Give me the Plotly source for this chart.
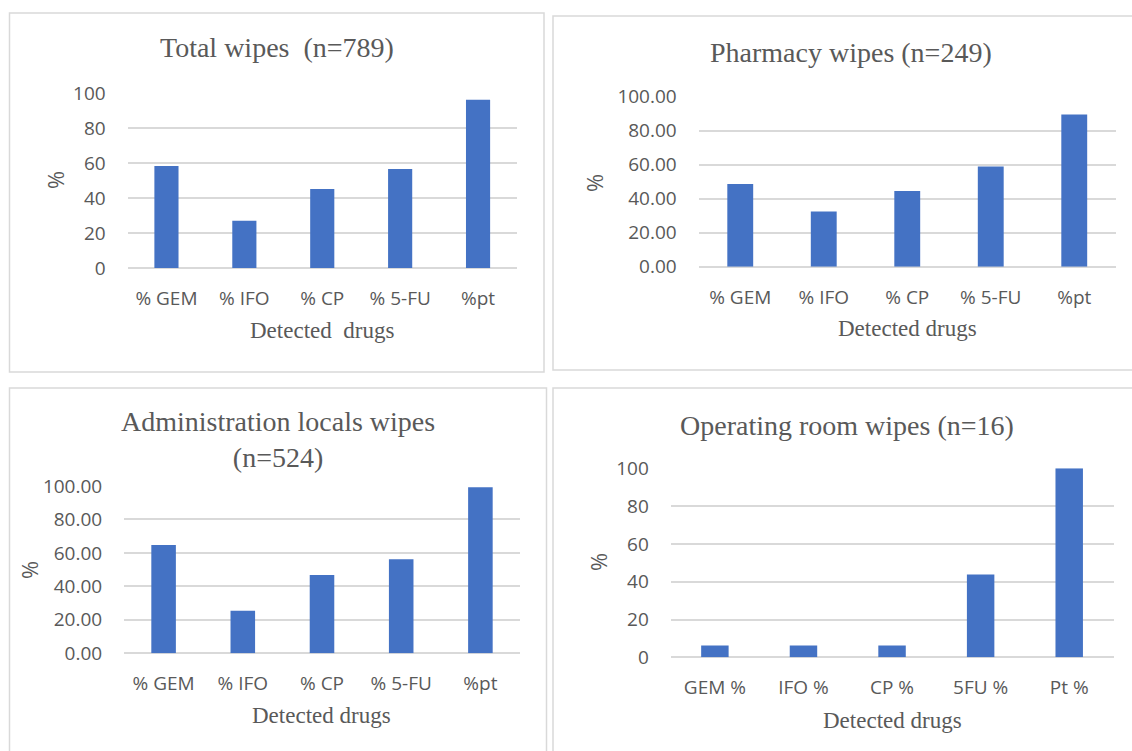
import plotly.graph_objects as go

W, H = 1132, 751

# ---- data ----
cats_a = ["% GEM", "% IFO", "% CP", "% 5-FU", "%pt"]
cats_or = ["GEM %", "IFO %", "CP %", "5FU %", "Pt %"]
total_vals = [58.3, 27.0, 45.1, 56.6, 96.2]
pharmacy_vals = [48.6, 32.4, 44.5, 59.0, 89.6]
admin_vals = [64.7, 25.5, 46.8, 56.2, 99.2]
oproom_vals = [6.25, 6.25, 6.25, 43.75, 100.0]

titles = ["Total wipes  (n=789)", "Pharmacy wipes (n=249)",
          "Administration locals wipes<br>(n=524)", "Operating room wipes (n=16)"]
xtitles = ["Detected  drugs", "Detected drugs", "Detected drugs", "Detected drugs"]

BAR = "#4472C4"
GRID = "#D9D9D9"
TXT = "#595959"
SERIF = "Liberation Serif, Times New Roman, serif"
SANS = "Open Sans, Liberation Sans, sans-serif"

def px(x):
    return x / W

def py(y):
    return 1 - y / H

panels = [
    dict(cats=cats_a, vals=total_vals, plot=(127.5, 517, 93, 268), title=(277, 48),
         xt=(322, 330), yt=(55, 180), border=(9.5, 13, 544, 372), fmt="d"),
    dict(cats=cats_a, vals=pharmacy_vals, plot=(698.5, 1116, 96.7, 266.7), title=(851, 52),
         xt=(907, 328), yt=(594, 183), border=(553, 16, 1140, 370), fmt=".2f"),
    dict(cats=cats_a, vals=admin_vals, plot=(124, 520, 486, 653.3), title=(278, 440),
         xt=(321, 715), yt=(29, 570), border=(9.5, 388, 546.5, 760), fmt=".2f"),
    dict(cats=cats_or, vals=oproom_vals, plot=(670.6, 1113.5, 468.3, 657.3), title=(847, 425),
         xt=(892, 720), yt=(598, 562), border=(553, 388, 1140, 760), fmt="d"),
]

fig = go.Figure()
annotations = []
shapes = []
layout_axes = {}

for i, p in enumerate(panels):
    n = "" if i == 0 else str(i + 1)
    x0, x1, yt_, yb_ = p["plot"]
    fig.add_trace(go.Bar(
        x=p["cats"], y=p["vals"], xaxis="x" + n, yaxis="y" + n,
        marker=dict(color=BAR, line=dict(width=0)), width=0.31,
        showlegend=False,
    ))
    layout_axes["xaxis" + n] = dict(
        domain=[px(x0), px(x1)], anchor="y" + n, range=[-0.5, 4.5],
        showgrid=False, zeroline=False, showline=False, automargin=False,
        ticks="outside", ticklen=13, tickcolor="rgba(0,0,0,0)",
        tickfont=dict(family=SANS, size=19, color=TXT), fixedrange=True,
    )
    layout_axes["yaxis" + n] = dict(
        domain=[py(yb_), py(yt_)], anchor="x" + n, range=[0, 100], dtick=20,
        tickformat=p["fmt"], showgrid=True, gridcolor=GRID, gridwidth=1.5,
        zeroline=True, zerolinecolor=GRID, zerolinewidth=1.5, showline=False,
        automargin=False,
        ticks="outside", ticklen=17, tickcolor="rgba(0,0,0,0)",
        tickfont=dict(family=SANS, size=19, color=TXT), fixedrange=True,
    )
    tx, ty = p["title"]
    annotations.append(dict(text=titles[i], x=px(tx), y=py(ty), xref="paper", yref="paper",
                            xanchor="center", yanchor="middle", showarrow=False,
                            font=dict(family=SERIF, size=28, color=TXT)))
    ax_, ay_ = p["xt"]
    annotations.append(dict(text=xtitles[i], x=px(ax_), y=py(ay_), xref="paper", yref="paper",
                            xanchor="center", yanchor="middle", showarrow=False,
                            font=dict(family=SERIF, size=23, color=TXT)))
    yx, yy = p["yt"]
    annotations.append(dict(text="%", x=px(yx), y=py(yy), xref="paper", yref="paper",
                            xanchor="center", yanchor="middle", showarrow=False, textangle=-90,
                            font=dict(family=SANS, size=22, color=TXT)))
    bx0, by0, bx1, by1 = p["border"]
    shapes.append(dict(type="rect", xref="paper", yref="paper",
                       x0=px(bx0), x1=px(bx1), y0=py(by1), y1=py(by0),
                       line=dict(color=GRID, width=1.5), fillcolor="rgba(0,0,0,0)", layer="below"))

fig.update_layout(
    width=W, height=H, margin=dict(l=0, r=0, t=0, b=0, pad=0, autoexpand=False),
    paper_bgcolor="white", plot_bgcolor="white", showlegend=False,
    annotations=annotations, shapes=shapes, bargap=0.69,
    **layout_axes,
)

fig.write_html(
    "out.html",
    config={"displayModeBar": False},
    post_script="document.body.style.margin='0';document.body.style.padding='0';",
)
